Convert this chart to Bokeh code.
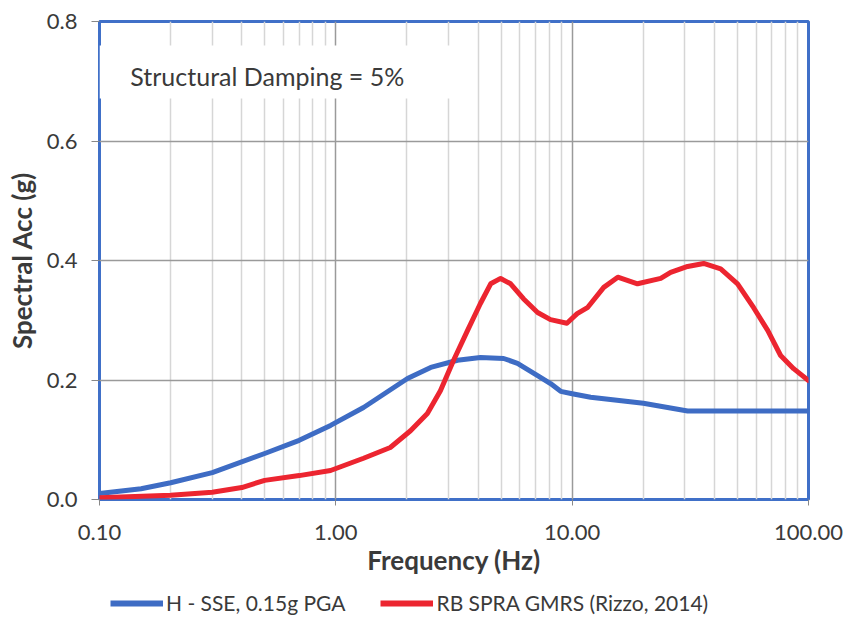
from bokeh.plotting import figure
from bokeh.layouts import column
from bokeh.models import (Range1d, FixedTicker, PrintfTickFormatter, Legend, LegendItem,
                          BoxAnnotation, Label)
from bokeh.embed import file_html
from bokeh.resources import INLINE

# ---- data ----
freq_blue = [0.1, 0.15, 0.2, 0.3, 0.5, 0.7, 0.95, 1.31, 2.01, 2.52, 3.27, 4.09, 5.13,
             5.87, 7.14, 8.1, 8.94, 10.0, 11.97, 20.0, 30.8, 50.0, 100.0]
acc_blue = [0.010, 0.018, 0.028, 0.045, 0.077, 0.099, 0.124, 0.154, 0.2025, 0.221, 0.233,
            0.2376, 0.236, 0.228, 0.2075, 0.194, 0.181, 0.177, 0.171, 0.161, 0.148, 0.148,
            0.148]

freq_red = [0.1, 0.2, 0.3, 0.4, 0.5, 0.7, 0.95, 1.31, 1.70, 2.07, 2.44, 2.77, 3.15, 3.61,
            4.09, 4.52, 4.98, 5.49, 6.22, 7.14, 8.1, 9.5, 10.5, 11.6, 13.6, 15.6, 18.9,
            23.7, 26.1, 30.8, 36.0, 42.5, 50.1, 58.6, 67.2, 76.2, 86.5, 100.0]
acc_red = [0.003, 0.007, 0.012, 0.020, 0.032, 0.040, 0.0485, 0.069, 0.087, 0.115, 0.144,
           0.182, 0.233, 0.283, 0.328, 0.361, 0.370, 0.361, 0.336, 0.313, 0.301, 0.295,
           0.311, 0.321, 0.355, 0.372, 0.361, 0.370, 0.380, 0.390, 0.395, 0.386, 0.361,
           0.321, 0.283, 0.241, 0.219, 0.199]

x_ticks = [0.1, 1.0, 10.0, 100.0]
x_minor = [m * d for d in (0.1, 1.0, 10.0) for m in range(2, 10)]
y_ticks = [0.0, 0.2, 0.4, 0.6, 0.8]

name_blue = "H - SSE, 0.15g PGA"
name_red = "RB SPRA GMRS (Rizzo, 2014)"
note = "Structural Damping = 5%"

FONT = "Lato"
TXT = "#3a3a3a"
BLUE = "#3E6CC4"
RED = "#EC2530"
FRAME = "#4070C8"

p = figure(width=846, height=585, x_axis_type="log", output_backend="svg",
           toolbar_location=None, x_range=Range1d(0.1, 100), y_range=Range1d(0, 0.8),
           min_border_left=99, min_border_right=38, min_border_top=21, min_border_bottom=86)
p.background_fill_color = "white"
p.border_fill_color = "white"
p.outline_line_color = FRAME
p.outline_line_width = 3

p.xaxis.ticker = FixedTicker(ticks=x_ticks, minor_ticks=x_minor)
p.xaxis.formatter = PrintfTickFormatter(format="%.2f")
p.yaxis.ticker = FixedTicker(ticks=y_ticks)
p.yaxis.formatter = PrintfTickFormatter(format="%.1f")

for ax in (p.xaxis, p.yaxis):
    ax.axis_line_color = None
    ax.major_tick_line_color = "#888888"
    ax.major_tick_in = 0
    ax.minor_tick_line_color = None
    ax.major_label_text_font = FONT
    ax.major_label_text_font_size = "22px"
    ax.major_label_text_color = TXT
    ax.axis_label_text_font = FONT
    ax.axis_label_text_font_size = "26px"
    ax.axis_label_text_font_style = "bold"
    ax.axis_label_text_color = TXT

p.xaxis.major_tick_out = 6
p.xaxis.major_label_standoff = 19
p.xaxis.axis_label = "Frequency (Hz)"
p.xaxis.axis_label_standoff = 1
p.yaxis.major_tick_out = 8
p.yaxis.major_label_standoff = 14
p.yaxis.axis_label = "Spectral Acc (g)"
p.yaxis.axis_label_standoff = 6

p.xgrid.grid_line_color = "#9a9a9a"
p.xgrid.grid_line_width = 1.5
p.xgrid.minor_grid_line_color = "#d6d6d6"
p.xgrid.minor_grid_line_width = 1.5
p.ygrid.grid_line_color = "#9a9a9a"
p.ygrid.grid_line_width = 1.5

# white box behind the note
p.add_layout(BoxAnnotation(left=0.1, right=3.35, bottom=0.671, top=0.76,
                           fill_color="white", fill_alpha=1.0, line_color=None, level="underlay"))
p.add_layout(Label(x=0.135, y=0.709, text=note, text_font=FONT, text_font_size="25px",
                   text_color=TXT, text_baseline="middle"))

p.line(freq_blue, acc_blue, line_width=5, line_color=BLUE, line_join="round", line_cap="round")
p.line(freq_red, acc_red, line_width=5, line_color=RED, line_join="round", line_cap="round")

# legend strip below the chart (its series are outside its visible ranges)
pl = figure(width=846, height=34, output_backend="svg", toolbar_location=None,
            min_border=0, x_axis_location=None, y_axis_location=None,
            x_range=Range1d(-3, -2), y_range=Range1d(-3, -2))
pl.outline_line_color = None
pl.xgrid.visible = False
pl.ygrid.visible = False
pl.background_fill_color = "white"
pl.border_fill_color = "white"
lb = pl.line(freq_blue, acc_blue, line_width=6, line_color=BLUE)
lr = pl.line(freq_red, acc_red, line_width=6, line_color=RED)
legend = Legend(items=[LegendItem(label=name_blue, renderers=[lb]),
                       LegendItem(label=name_red, renderers=[lr])],
                orientation="horizontal", location=(11, 4),
                glyph_width=53, glyph_height=20, label_height=20, label_standoff=3,
                spacing=35, padding=0, margin=0,
                label_text_font=FONT, label_text_font_size="21px", label_text_color=TXT,
                background_fill_alpha=0, border_line_color=None)
pl.add_layout(legend, "center")

open("out.html", "w").write(file_html(column(p, pl, spacing=0), INLINE))
